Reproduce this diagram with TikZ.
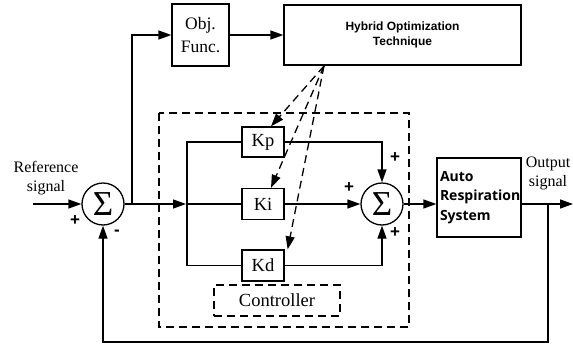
\documentclass[tikz,border=0pt]{standalone}
\usepackage{fontspec}
\setmainfont{Liberation Serif}
\newfontfamily\hfont{Liberation Sans}
\newfontfamily\afont{Open Sans}
\usetikzlibrary{arrows.meta}
\begin{document}
\begin{tikzpicture}[x=1pt,y=-1pt,
  line width=1.3pt,
  >={Triangle[length=13pt,width=9pt]},
  blk/.style={draw,rectangle,inner sep=0pt,align=center},
  sumnode/.style={draw,circle,minimum size=42pt,inner sep=0pt,font=\fontsize{35}{35}\selectfont},
  dsh/.style={dash pattern=on 8pt off 5pt},
  sign/.style={font=\hfont\bfseries\fontsize{17}{17}\selectfont,inner sep=0pt},
  lbl/.style={font=\fontsize{16}{19}\selectfont,inner sep=0pt,align=center}
]
\useasboundingbox (0,0) rectangle (573,343);
% blocks
\node[blk,minimum width=57pt,minimum height=62pt,font=\fontsize{17.5}{23}\selectfont] (obj) at (200.5,35) {Obj.\\Func.};
\node[blk,minimum width=237pt,minimum height=60pt,font=\hfont\bfseries\fontsize{12}{14.5}\selectfont] (hyb) at (402.5,35) {Hybrid Optimization\\Technique};
\node[sumnode] (s1) at (103,204) {Σ};
\node[sumnode] (s2) at (382,204) {Σ};
\node[blk,minimum width=42pt,minimum height=30pt,font=\fontsize{18.5}{18}\selectfont] (kp) at (263,142) {Kp};
\node[blk,minimum width=42pt,minimum height=31pt,font=\fontsize{18.5}{18}\selectfont] (ki) at (263,204) {Ki};
\node[blk,minimum width=42pt,minimum height=31pt,font=\fontsize{18.5}{18}\selectfont] (kd) at (263,265.5) {Kd};
\node[blk,align=left,text width=78pt,minimum width=84pt,minimum height=79pt,font=\afont\bfseries\fontsize{14}{19.5}\selectfont] (auto) at (479,197.5) {Auto\\Respiration\\System};
\node[blk,dsh,minimum width=126pt,minimum height=31pt,font=\fontsize{18.5}{18}\selectfont] (ctrl) at (277,300.5) {Controller};
\draw[dsh] (159,113) rectangle (409,327);
% coordinates
\coordinate (in) at (33,204);
\coordinate (j1) at (132,204);
\coordinate (j2) at (187,204);
\coordinate (out) at (573,204);
\coordinate (fb) at (548,204);
\coordinate (hs) at (324,66);
% labels
\node[lbl] (reflbl) at (46,178.5) {Reference\\signal};
\node[lbl] (outlbl) at (548,173.5) {Output\\signal};
\node[sign] (p1) at (75,221) {+};
\node[sign] (m1) at (117,233) {-};
\node[sign] (p2) at (395,158) {+};
\node[sign] (p3) at (349,188) {+};
\node[sign] (p4) at (395,233) {+};
% connectors
\draw[->] (in) -- (s1.west);
\draw[->] (s1.east) -- ([xshift=-1pt]j2);
\draw (j2) -- (ki.west);
\draw[->] (j1) -- (j1 |- obj.west) -- (obj.west);
\draw[->] (obj.east) -- (hyb.west);
\draw (kp.west) -| (j2) |- (kd.west);
\draw[->] (kp.east) -| (s2.north);
\draw[->] (ki.east) -- (s2.west);
\draw[->] (kd.east) -| (s2.south);
\draw[->] (s2.east) -- (auto.west |- s2.east);
\draw[->] (auto.east |- out) -- (out);
\draw[->] (fb) -- (548,342) -| (s1.south);
% dashed arrows
\draw[->,dsh] (hs) -- ([xshift=8pt]kp.north);
\draw[->,dsh] (hs) -- ([xshift=8pt]ki.north);
\draw[->,dsh] (hs) -- ([xshift=3pt]kd.north east);
\end{tikzpicture}
\end{document}
